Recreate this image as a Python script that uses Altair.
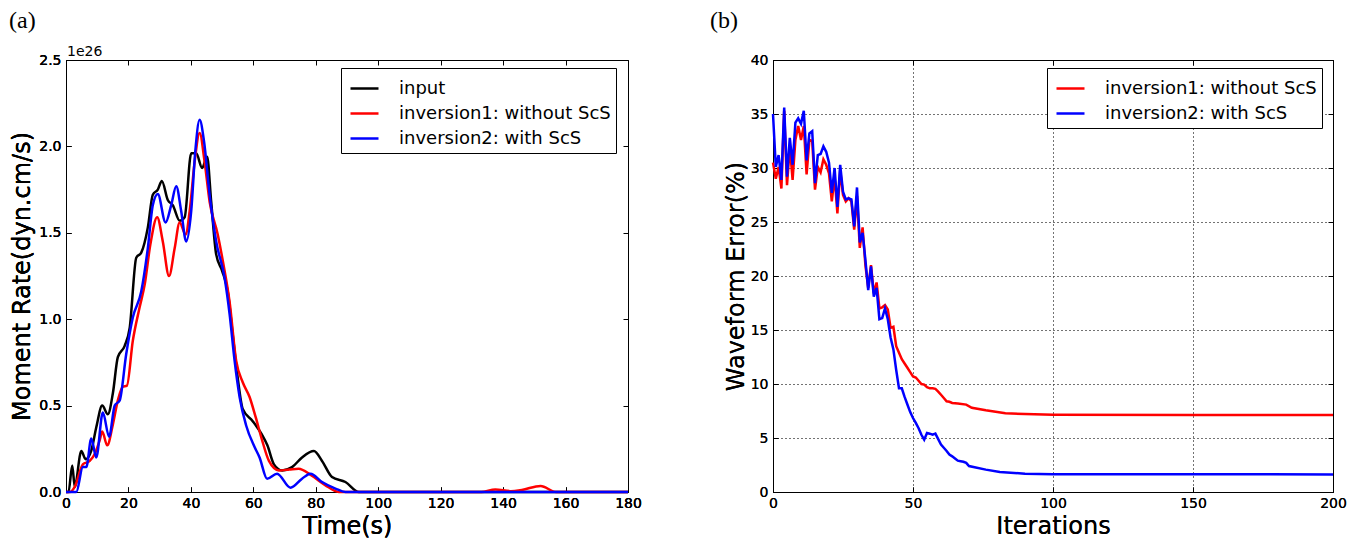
import altair as alt
import pandas as pd

# ---------------- panel (a): moment rate (units of 1e26 dyn.cm/s) ----------------
t_input = [0, 0.8, 2.0, 2.8, 4.9, 6.3, 8.1, 9.7, 11.6, 13.4, 15.0, 16.6, 18.8, 20.4, 22.5, 24.1,
           26.2, 27.8, 29.4, 30.7, 32.6, 34.2, 36.4, 38.0, 40.1, 41.7, 43.6, 45.2, 46.5, 48.1,
           50.0, 51.8, 53.4, 55.0, 56.6, 59.8, 62.8, 64.5, 66.6, 69.2, 72.4, 75.6, 79.4, 82.0,
           85.2, 89.5, 93.8, 100, 180]
v_input = [0, 0, 0.154, 0.03, 0.237, 0.19, 0.24, 0.375, 0.50, 0.45, 0.57, 0.78, 0.846, 0.95,
           1.356, 1.385, 1.53, 1.72, 1.75, 1.80, 1.69, 1.66, 1.57, 1.59, 1.96, 1.96, 1.875, 1.94,
           1.68, 1.375, 1.28, 1.16, 0.91, 0.66, 0.48, 0.41, 0.33, 0.27, 0.16, 0.125, 0.144, 0.20,
           0.237, 0.18, 0.087, 0.058, 0.0, 0, 0]

t_inv1 = [0, 1.2, 2.8, 5.4, 7.6, 9.2, 10.8, 11.6, 13.2, 15.0, 16.6, 18.2, 19.5, 21.4, 23.6, 25.2,
          27.0, 29.2, 31.0, 33.0, 34.8, 36.4, 38.3, 39.6, 41.2, 42.8, 44.4, 46.0, 48.6, 50.2,
          52.4, 54.5, 56.6, 58.8, 60.8, 62.8, 65.0, 68.2, 71.5, 74.5, 78.6, 83.0, 87.4, 133,
          137.5, 142.5, 146, 152, 157, 180]
v_inv1 = [0, 0, 0.03, 0.16, 0.18, 0.22, 0.30, 0.35, 0.27, 0.39, 0.53, 0.61, 0.615, 0.875, 1.07,
          1.20, 1.43, 1.59, 1.45, 1.25, 1.41, 1.56, 1.49, 1.625, 1.91, 2.077, 1.91, 1.68, 1.49,
          1.34, 1.10, 0.76, 0.635, 0.55, 0.43, 0.30, 0.18, 0.125, 0.13, 0.135, 0.096, 0.04, 0,
          0, 0.014, 0.005, 0.012, 0.035, 0, 0]

t_inv2 = [0, 3.3, 5.4, 6.5, 8.1, 9.7, 11.8, 13.8, 15.6, 17.2, 19.3, 21.4, 24.1, 26.2, 27.8, 29.4,
          31.9, 33.7, 35.3, 36.9, 38.5, 40.1, 41.4, 42.8, 44.2, 46.0, 48.1, 50.8, 52.4, 54.0,
          55.6, 57.7, 60.4, 62.0, 64.4, 67.6, 71.9, 75.6, 78.3, 82.0, 86.3, 89.5, 180]
v_inv2 = [0, 0, 0.144, 0.144, 0.31, 0.20, 0.46, 0.32, 0.50, 0.53, 0.80, 1.01, 1.16, 1.41, 1.66,
          1.725, 1.56, 1.66, 1.77, 1.625, 1.45, 1.625, 1.97, 2.154, 2.03, 1.72, 1.45, 1.24, 1.03,
          0.76, 0.55, 0.385, 0.26, 0.20, 0.077, 0.106, 0.025, 0.077, 0.106, 0.058, 0.02, 0, 0]

names_a = ["input", "inversion1: without ScS", "inversion2: with ScS"]
colors_a = ["black", "red", "blue"]
x_ticks_a = [0, 20, 40, 60, 80, 100, 120, 140, 160, 180]
y_ticks_a = [0.0, 0.5, 1.0, 1.5, 2.0, 2.5]

# ---------------- panel (b): waveform error ----------------
it_inv1 = list(range(0, 65)) + [66, 69, 71, 76, 83, 90, 100, 150, 200]
err_inv1 = [30.5, 29.0, 30.1, 28.1, 35.3, 28.4, 32.0, 28.9, 32.6, 33.9, 32.6, 33.9, 29.4, 32.6,
            32.5, 28.0, 30.1, 29.6, 30.8, 30.3, 29.5, 26.9, 29.2, 25.8, 29.8, 27.5, 26.9, 27.2,
            26.9, 24.3, 27.4, 22.6, 24.5, 21.0, 18.9, 21.0, 18.4, 19.4, 17.0, 17.1, 17.3, 16.9,
            15.2, 15.3, 13.5, 12.9, 12.3, 11.9, 11.5, 11.1, 10.7, 10.6, 10.3, 10.0, 9.95, 9.7,
            9.6, 9.6, 9.55, 9.3, 9.0, 8.7, 8.4, 8.35, 8.24,
            8.2, 8.09, 7.8, 7.56, 7.3, 7.22, 7.16, 7.12, 7.12]

it_inv2 = list(range(0, 71)) + [72, 76, 81, 90, 100, 120, 150, 200]
err_inv2 = [35.0, 30.1, 31.2, 28.9, 35.6, 29.2, 32.8, 30.3, 34.2, 34.6, 34.1, 35.3, 30.7, 33.2,
            33.4, 28.6, 31.2, 31.3, 32.0, 31.5, 30.5, 27.7, 30.0, 26.4, 30.3, 27.8, 27.1, 27.2,
            27.1, 24.6, 28.2, 23.1, 24.0, 21.5, 18.7, 20.9, 18.1, 18.9, 16.0, 16.1, 17.0, 16.0,
            14.3, 13.2, 11.3, 9.6, 9.6, 8.8, 8.1, 7.4, 6.85, 6.4, 5.9, 5.3, 4.85, 5.46, 5.4, 5.3,
            5.4, 4.9, 4.4, 4.1, 3.8, 3.46, 3.3, 3.1, 2.9, 2.85, 2.8, 2.7, 2.4,
            2.3, 2.07, 1.85, 1.7, 1.65, 1.65, 1.65, 1.62]

names_b = ["inversion1: without ScS", "inversion2: with ScS"]
colors_b = ["red", "blue"]
x_ticks_b = [0, 50, 100, 150, 200]
y_ticks_b = [0, 5, 10, 15, 20, 25, 30, 35, 40]

# ---------------- build tables ----------------
df_a = pd.concat([
    pd.DataFrame({"t": t_input, "v": v_input, "series": names_a[0]}),
    pd.DataFrame({"t": t_inv1, "v": v_inv1, "series": names_a[1]}),
    pd.DataFrame({"t": t_inv2, "v": v_inv2, "series": names_a[2]}),
], ignore_index=True)
df_b = pd.concat([
    pd.DataFrame({"it": it_inv1, "e": err_inv1, "series": names_b[0]}),
    pd.DataFrame({"it": it_inv2, "e": err_inv2, "series": names_b[1]}),
], ignore_index=True)

FONT = "DejaVu Sans"
TICK_IN = alt.ExprRef(expr="-5")
W_A, W_B, H = 562, 560, 432


def axis(orient, values, title=None, fmt=None, grid=False, labels=True, title_pad=4):
    kw = dict(orient=orient, values=values, grid=grid, labels=labels, labelFlush=False,
              domainColor="black", domainWidth=1, tickColor="black", tickWidth=1,
              tickSize=TICK_IN, labelFont=FONT, labelFontSize=14, labelColor="black",
              titleFont=FONT, titleFontSize=24, titleFontWeight="normal", titleColor="black",
              titlePadding=title_pad)
    kw["title"] = title
    if fmt is not None:
        kw["format"] = fmt
    if orient in ("bottom", "top"):
        kw["labelPadding"] = 9
    else:
        kw["labelPadding"] = 10
    if grid:
        kw.update(gridColor="#444444", gridDash=[1, 3], gridWidth=1)
    return alt.Axis(**kw)


def legend(x, y):
    return alt.Legend(orient="none", legendX=x, legendY=y, title=None,
                      symbolType="stroke", symbolStrokeWidth=2.5, symbolSize=784,
                      symbolOffset=3, labelFont=FONT, labelFontSize=18, labelColor="black",
                      labelOffset=19, strokeColor="black", fillColor="white", padding=5,
                      rowPadding=0, cornerRadius=0, labelLimit=400)


def note(text, x, y, font, size, baseline="alphabetic"):
    return alt.Chart(pd.DataFrame({"txt": [text]})).mark_text(
        align="left", baseline=baseline, font=font, fontSize=size, color="black"
    ).encode(text="txt:N", x=alt.value(x), y=alt.value(y))


# ---- panel (a) ----
xs_a = alt.Scale(domain=[0, 180], nice=False, zero=False)
ys_a = alt.Scale(domain=[0, 2.5], nice=False)
cs_a = alt.Scale(domain=names_a, range=colors_a)

layers_a = []
for n in names_a:
    layers_a.append(
        alt.Chart(df_a).transform_filter(alt.datum.series == n)
        .mark_line(strokeWidth=2.5, interpolate="monotone")
        .encode(
            x=alt.X("t:Q", scale=xs_a, axis=axis("bottom", x_ticks_a, "Time(s)")),
            y=alt.Y("v:Q", scale=ys_a,
                    axis=axis("left", y_ticks_a, "Moment Rate(dyn.cm/s)", fmt=".1f")),
            color=alt.Color("series:N", scale=cs_a, legend=legend(275, 8)),
        )
    )
ghost_a = alt.Chart(df_a).mark_point(opacity=0).encode(
    x=alt.X("t:Q", scale=xs_a, axis=axis("top", x_ticks_a, labels=False)),
    y=alt.Y("v:Q", scale=ys_a, axis=axis("right", y_ticks_a, labels=False)),
)
panel_a = alt.layer(
    *layers_a, ghost_a,
    note("1e26", 1, -4, FONT, 14),
    note("(a)", -57, -51, "Liberation Serif", 24, baseline="top"),
).resolve_axis(x="independent", y="independent").properties(width=W_A, height=H)

# ---- panel (b) ----
xs_b = alt.Scale(domain=[0, 200], nice=False, zero=False)
ys_b = alt.Scale(domain=[0, 40], nice=False)
cs_b = alt.Scale(domain=names_b, range=colors_b)

layers_b = []
for n in names_b:
    layers_b.append(
        alt.Chart(df_b).transform_filter(alt.datum.series == n)
        .mark_line(strokeWidth=2.5)
        .encode(
            x=alt.X("it:Q", scale=xs_b, axis=axis("bottom", x_ticks_b, "Iterations", grid=True)),
            y=alt.Y("e:Q", scale=ys_b,
                    axis=axis("left", y_ticks_b, "Waveform Error(%)", grid=True, title_pad=2)),
            color=alt.Color("series:N", scale=cs_b, legend=legend(274, 8)),
        )
    )
ghost_b = alt.Chart(df_b).mark_point(opacity=0).encode(
    x=alt.X("it:Q", scale=xs_b, axis=axis("top", x_ticks_b, labels=False)),
    y=alt.Y("e:Q", scale=ys_b, axis=axis("right", y_ticks_b, labels=False)),
)
panel_b = alt.layer(
    *layers_b, ghost_b,
    note("(b)", -63, -51, "Liberation Serif", 24, baseline="top"),
).resolve_axis(x="independent", y="independent").properties(width=W_B, height=H)

chart = alt.hconcat(panel_a, panel_b, spacing=67).resolve_scale(
    color="independent", x="independent", y="independent"
).resolve_legend(color="independent").properties(
    padding={"left": 8, "top": 8, "right": 0, "bottom": 0}
).configure_view(stroke="black", strokeWidth=1).configure(background="white")

chart.save("out.html", embed_options={"renderer": "svg", "actions": False})
